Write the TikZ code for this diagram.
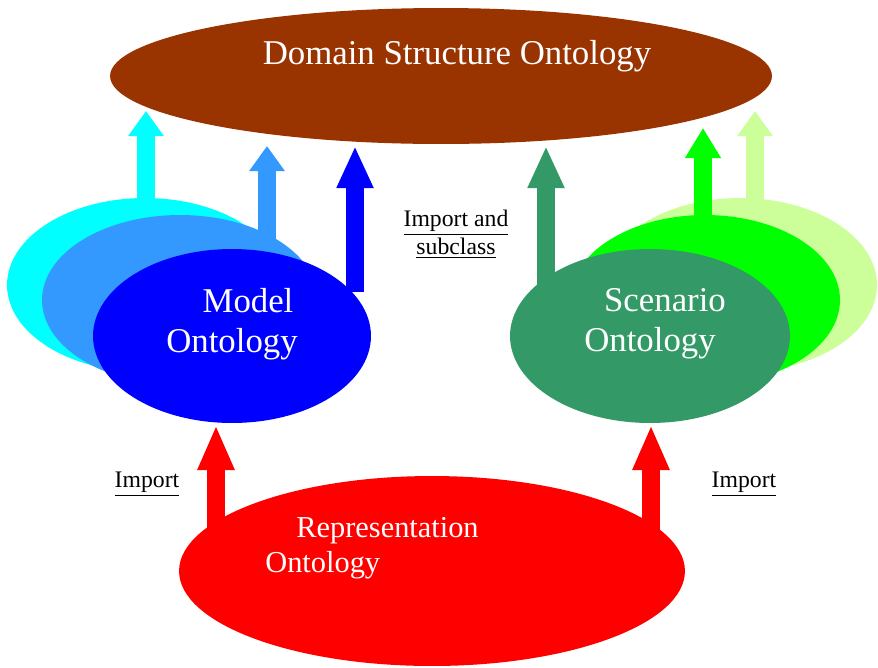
\documentclass[tikz,border=0pt]{standalone}
\usepackage{fontspec}
\setmainfont{Liberation Serif}
\usetikzlibrary{shapes.geometric,arrows.meta}
\definecolor{domainbrown}{HTML}{993300}
\definecolor{cyanonto}{HTML}{00FFFF}
\definecolor{lightblueonto}{HTML}{3399FF}
\definecolor{modelblue}{HTML}{0000FF}
\definecolor{scenariogreen}{HTML}{339966}
\definecolor{greenonto}{HTML}{00FF00}
\definecolor{lightgreenonto}{HTML}{CCFF99}
\definecolor{reprred}{HTML}{FF0000}
\tikzset{
 onto/.style={ellipse,draw=none,inner sep=0pt},
 bigtxt/.style={text=white,inner sep=0pt,font=\fontsize{19.8pt}{22.7pt}\selectfont},
 smalltxt/.style={text=black,inner sep=0pt,align=center,font=\fontsize{13.5pt}{15.9pt}\selectfont},
 blockarrow/.style n args={2}{line width=0.35cm,draw=#1,-{Triangle[width=0.68cm,length=#2]}}
}
\begin{document}
\begin{tikzpicture}[x=0.02cm,y=-0.02cm]
 \useasboundingbox (0,0) rectangle (878,667);
 \node[onto,fill=domainbrown,minimum width=13.24cm,minimum height=2.72cm] (domain) at (441,76) {};
 \node[bigtxt] (domaintxt) at (457,56) {Domain Structure Ontology};
 \coordinate (cyanfoot) at (146,202); \coordinate (cyantip) at (146,111);
 \coordinate (lbfoot) at (267,240); \coordinate (lbtip) at (267,146);
 \coordinate (modelfoot) at (355,292); \coordinate (modeltip) at (355,146);
 \coordinate (scenfoot) at (546,292); \coordinate (scentip) at (546,146);
 \coordinate (grnfoot) at (703,222); \coordinate (grntip) at (703,128);
 \coordinate (lgfoot) at (755,202); \coordinate (lgtip) at (755,111);
 \coordinate (reprlfoot) at (216,530); \coordinate (reprltip) at (216,425);
 \coordinate (reprrfoot) at (651,530); \coordinate (reprrtip) at (651,425);
 \node[onto,fill=cyanonto,minimum width=5.52cm,minimum height=3.48cm] (cyan) at (145,285) {};
 \draw[blockarrow={cyanonto}{0.5cm}] (cyanfoot) -- (cyantip);
 \node[onto,fill=lightblueonto,minimum width=5.52cm,minimum height=3.4cm] (lightblue) at (180,300) {};
 \draw[blockarrow={lightblueonto}{0.5cm}] (lbfoot) -- (lbtip);
 \node[onto,fill=modelblue,minimum width=5.56cm,minimum height=3.48cm] (model) at (232,336) {};
 \draw[blockarrow={modelblue}{0.84cm}] (modelfoot) -- (modeltip);
 \node[bigtxt,align=center] (modeltxt) at (232,324) {\hspace*{0.64cm}Model\\Ontology};
 \node[onto,fill=lightgreenonto,minimum width=5.48cm,minimum height=3.48cm] (lightgreen) at (740,285) {};
 \draw[blockarrow={lightgreenonto}{0.5cm}] (lgfoot) -- (lgtip);
 \node[onto,fill=greenonto,minimum width=5.4cm,minimum height=3.4cm] (green) at (705,300) {};
 \draw[blockarrow={greenonto}{0.6cm}] (grnfoot) -- (grntip);
 \node[onto,fill=scenariogreen,minimum width=5.6cm,minimum height=3.48cm] (scenario) at (650,336) {};
 \draw[blockarrow={scenariogreen}{0.84cm}] (scenfoot) -- (scentip);
 \node[bigtxt,align=center] (scentxt) at (650,324) {\hspace*{0.6cm}Scenario\\Ontology};
 \node[onto,fill=reprred,minimum width=10.12cm,minimum height=3.8cm] (repr) at (432,571) {};
 \draw[blockarrow={reprred}{0.9cm}] (reprlfoot) -- (reprltip);
 \draw[blockarrow={reprred}{0.9cm}] (reprrfoot) -- (reprrtip);
 \node[bigtxt,align=left,anchor=west,font=\fontsize{17.3pt}{19.9pt}\selectfont] (reprtxt) at (265,548) {\hspace*{0.62cm}Representation\\Ontology};
 \node[smalltxt] (subclasstxt) at (456,234) {\underline{Import and}\\\underline{subclass}};
 \node[smalltxt] (importl) at (147,484) {\underline{Import}};
 \node[smalltxt] (importr) at (744,484) {\underline{Import}};
\end{tikzpicture}
\end{document}
